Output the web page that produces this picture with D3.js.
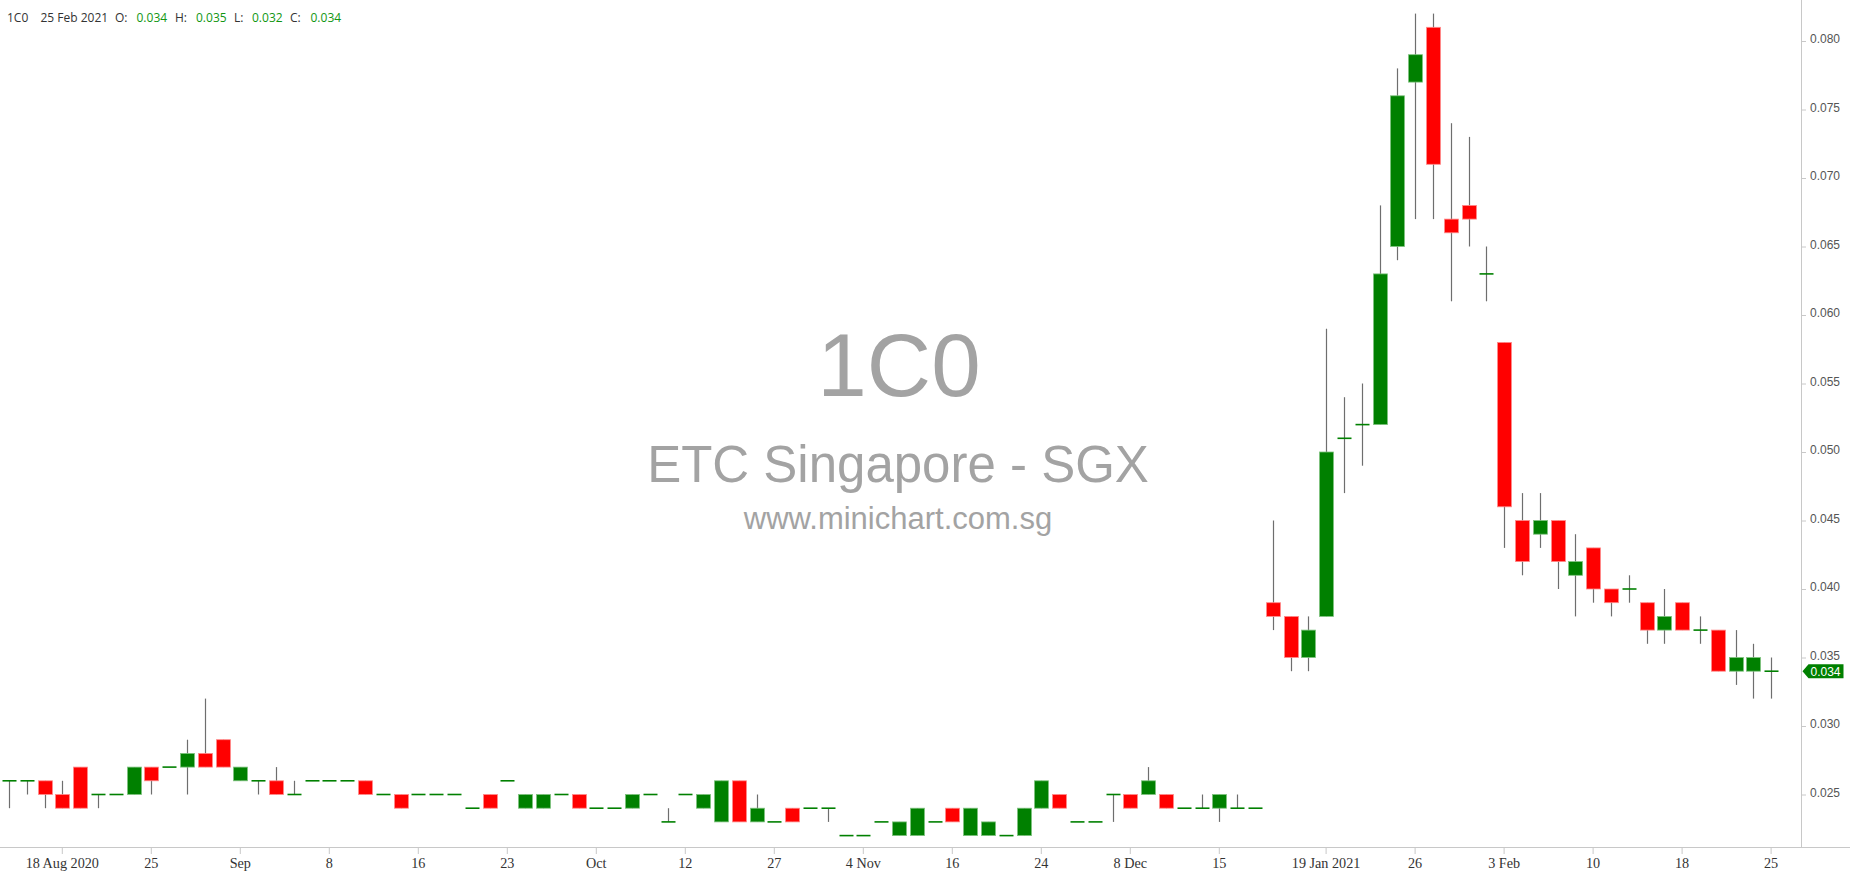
<!DOCTYPE html>
<html>
<head>
<meta charset="utf-8">
<script src="https://cdn.jsdelivr.net/npm/d3@7"></script>
<style>
  html, body { margin: 0; padding: 0; background: #fff; }
  svg { display: block; }
</style>
</head>
<body>
<svg id="chart" width="1850" height="874"></svg>
<script>
const symbol = "1C0";
const wmTitle = "1C0";
const wmSub = "ETC Singapore - SGX";
const wmSite = "www.minichart.com.sg";

const dates = [
  "2020-08-13","2020-08-14","2020-08-17","2020-08-18","2020-08-19","2020-08-20","2020-08-21","2020-08-24","2020-08-25","2020-08-26",
  "2020-08-27","2020-08-28","2020-08-31","2020-09-01","2020-09-02","2020-09-03","2020-09-04","2020-09-07","2020-09-08","2020-09-09",
  "2020-09-10","2020-09-11","2020-09-14","2020-09-16","2020-09-17","2020-09-18","2020-09-21","2020-09-22","2020-09-23","2020-09-24",
  "2020-09-25","2020-09-28","2020-09-29","2020-10-01","2020-10-02","2020-10-05","2020-10-07","2020-10-09","2020-10-12","2020-10-14",
  "2020-10-16","2020-10-20","2020-10-22","2020-10-27","2020-10-28","2020-10-29","2020-10-30","2020-11-02","2020-11-04","2020-11-05",
  "2020-11-06","2020-11-09","2020-11-11","2020-11-16","2020-11-17","2020-11-18","2020-11-19","2020-11-20","2020-11-24","2020-11-25",
  "2020-11-27","2020-12-01","2020-12-03","2020-12-08","2020-12-09","2020-12-10","2020-12-11","2020-12-14","2020-12-15","2020-12-16",
  "2020-12-17","2021-01-14","2021-01-15","2021-01-18","2021-01-19","2021-01-20","2021-01-21","2021-01-22","2021-01-25","2021-01-26",
  "2021-01-27","2021-01-28","2021-01-29","2021-02-01","2021-02-03","2021-02-04","2021-02-05","2021-02-08","2021-02-09","2021-02-10",
  "2021-02-11","2021-02-15","2021-02-16","2021-02-17","2021-02-18","2021-02-19","2021-02-22","2021-02-23","2021-02-24","2021-02-25"
];

const open = [
  .026,.026,.026,.025,.027,.025,.025,.025,.027,.027,
  .027,.028,.029,.026,.026,.026,.025,.026,.026,.026,
  .026,.025,.025,.025,.025,.025,.024,.025,.026,.024,
  .024,.025,.025,.024,.024,.024,.025,.023,.025,.024,
  .023,.026,.023,.023,.024,.024,.024,.022,.022,.023,
  .022,.022,.023,.024,.022,.022,.022,.022,.024,.025,
  .023,.023,.025,.025,.025,.025,.024,.024,.024,.024,
  .024,.039,.038,.035,.038,.051,.052,.052,.065,.077,
  .081,.067,.068,.063,.058,.045,.044,.045,.041,.043,
  .040,.040,.039,.037,.039,.037,.037,.034,.034,.034
];
const high = [
  .026,.026,.026,.026,.027,.025,.025,.027,.027,.027,
  .029,.032,.029,.027,.026,.027,.026,.026,.026,.026,
  .026,.025,.025,.025,.025,.025,.024,.025,.026,.025,
  .025,.025,.025,.024,.024,.025,.025,.024,.025,.025,
  .026,.026,.025,.023,.024,.024,.024,.022,.022,.023,
  .023,.024,.023,.024,.024,.023,.022,.024,.026,.025,
  .023,.023,.025,.025,.027,.025,.024,.025,.025,.025,
  .024,.045,.038,.038,.059,.054,.055,.068,.078,.082,
  .082,.074,.073,.065,.058,.047,.047,.045,.044,.043,
  .040,.041,.039,.040,.039,.038,.037,.037,.036,.035
];
const low = [
  .024,.025,.024,.024,.024,.024,.025,.025,.025,.027,
  .025,.027,.027,.026,.025,.025,.025,.026,.026,.026,
  .025,.025,.024,.025,.025,.025,.024,.024,.026,.024,
  .024,.025,.024,.024,.024,.024,.025,.023,.025,.024,
  .023,.023,.023,.023,.023,.024,.023,.022,.022,.023,
  .022,.022,.023,.023,.022,.022,.022,.022,.024,.024,
  .023,.023,.023,.024,.025,.024,.024,.024,.023,.024,
  .024,.037,.034,.034,.038,.047,.049,.052,.064,.067,
  .067,.061,.065,.061,.043,.041,.043,.040,.038,.039,
  .038,.039,.036,.036,.037,.036,.034,.033,.032,.032
];
const close = [
  .026,.026,.025,.024,.024,.025,.025,.027,.026,.027,
  .028,.027,.027,.027,.026,.025,.025,.026,.026,.026,
  .025,.025,.024,.025,.025,.025,.024,.024,.026,.025,
  .025,.025,.024,.024,.024,.025,.025,.023,.025,.025,
  .026,.023,.024,.023,.023,.024,.024,.022,.022,.023,
  .023,.024,.023,.023,.024,.023,.022,.024,.026,.024,
  .023,.023,.025,.024,.026,.024,.024,.024,.025,.024,
  .024,.038,.035,.037,.050,.051,.052,.063,.076,.079,
  .071,.066,.067,.063,.046,.042,.045,.042,.042,.040,
  .039,.040,.037,.038,.037,.037,.034,.035,.035,.034
];

const priceTicks = [0.025,0.030,0.035,0.040,0.045,0.050,0.055,0.060,0.065,0.070,0.075,0.080];
const tickDates = ["2020-08-18","2020-08-25","2020-09-01","2020-09-08","2020-09-16","2020-09-23","2020-10-01","2020-10-12","2020-10-27","2020-11-04",
                   "2020-11-16","2020-11-24","2020-12-08","2020-12-15","2021-01-19","2021-01-26","2021-02-03","2021-02-10","2021-02-18","2021-02-25"];
const tickLabels = ["18 Aug 2020","25","Sep","8","16","23","Oct","12","27","4 Nov",
                    "16","24","8 Dec","15","19 Jan 2021","26","3 Feb","10","18","25"];

const W = 1850, H = 874;
const axisX = 1801.5, axisY = 847;
const UP = "#008000", DOWN = "#ff0000", WICK = "#6e6e6e";

const svg = d3.select("#chart");

const x = d3.scaleBand().domain(dates).range([0, 1780]).padding(0);
const y = d3.scaleLinear().domain([0.025, 0.080]).range([794.5, 41]);
const cx = d => x(d) + x.bandwidth() / 2;

// watermark
const wm = svg.append("g").attr("fill", "#a3a3a3").attr("font-family", "'Liberation Sans', Arial, sans-serif").attr("text-anchor", "middle");
wm.append("text").attr("x", 899).attr("y", 396).attr("font-size", 89).text(wmTitle);
wm.append("text").attr("x", 898).attr("y", 482).attr("font-size", 51).text(wmSub);
wm.append("text").attr("x", 898).attr("y", 529).attr("font-size", 31).text(wmSite);

// axes lines
svg.append("line").attr("x1", 0).attr("x2", W).attr("y1", axisY + 0.5).attr("y2", axisY + 0.5).attr("stroke", "#c8c8c8");
svg.append("line").attr("x1", axisX).attr("x2", axisX).attr("y1", 0).attr("y2", axisY).attr("stroke", "#c8c8c8");

// x axis
const xAxis = d3.axisBottom(x).tickValues(tickDates).tickFormat((d, i) => tickLabels[i]).tickSize(6).tickSizeOuter(0);
const gx = svg.append("g").attr("transform", `translate(0,${axisY + 1})`).call(xAxis);
gx.select(".domain").remove();
gx.selectAll(".tick line").attr("stroke", "#c8c8c8");
gx.selectAll(".tick text").attr("fill", "#333").attr("font-family", "'Liberation Serif', 'Times New Roman', serif").attr("font-size", 14.2).attr("dy", "0.78em");

// y axis (right)
const yAxis = d3.axisRight(y).tickValues(priceTicks).tickFormat(d3.format(".3f")).tickSize(4).tickPadding(4);
const gy = svg.append("g").attr("transform", `translate(${axisX + 0.5},0)`).call(yAxis);
gy.select(".domain").remove();
gy.selectAll(".tick line").attr("stroke", "#c8c8c8");
gy.selectAll(".tick text").attr("fill", "#555").attr("font-family", "'Liberation Sans', Arial, sans-serif").attr("font-size", 12).attr("dy", "0.15em");

// candles
const data = dates.map((d, i) => ({ d, o: open[i], h: high[i], l: low[i], c: close[i] }));
const bw = 14;
const g = svg.append("g");
g.selectAll("line.wick").data(data.filter(e => e.h > e.l)).join("line")
  .attr("class", "wick")
  .attr("x1", e => Math.round(cx(e.d)) + 0.5).attr("x2", e => Math.round(cx(e.d)) + 0.5)
  .attr("y1", e => y(e.h)).attr("y2", e => y(e.l))
  .attr("stroke", WICK).attr("stroke-width", 1.2);
g.selectAll("rect.body").data(data.filter(e => e.o !== e.c)).join("rect")
  .attr("class", "body")
  .attr("x", e => Math.round(cx(e.d)) + 0.5 - bw / 2)
  .attr("width", bw)
  .attr("y", e => y(Math.max(e.o, e.c)))
  .attr("height", e => y(Math.min(e.o, e.c)) - y(Math.max(e.o, e.c)))
  .attr("fill", e => e.c > e.o ? UP : DOWN)
  .attr("stroke", e => e.c > e.o ? "#7fc27f" : "#ff8c8c")
  .attr("stroke-width", 0.8);
g.selectAll("line.doji").data(data.filter(e => e.o === e.c)).join("line")
  .attr("class", "doji")
  .attr("x1", e => Math.round(cx(e.d)) + 0.5 - bw / 2).attr("x2", e => Math.round(cx(e.d)) + 0.5 + bw / 2)
  .attr("y1", e => y(e.c)).attr("y2", e => y(e.c))
  .attr("stroke", UP).attr("stroke-width", 1.6);

// last price tag
const last = data[data.length - 1];
const ly = y(last.c);
svg.append("path")
  .attr("d", `M${axisX + 1},${ly} L${axisX + 7},${ly - 7} L${axisX + 42},${ly - 7} L${axisX + 42},${ly + 7} L${axisX + 7},${ly + 7} Z`)
  .attr("fill", UP);
svg.append("text").attr("x", axisX + 9).attr("y", ly).attr("dy", "0.36em")
  .attr("fill", "#fff").attr("font-family", "'Liberation Sans', Arial, sans-serif").attr("font-size", 12)
  .text(d3.format(".3f")(last.c));

// header
const hdr = svg.append("g").attr("font-family", "'Open Sans', sans-serif").attr("font-size", 12);
const fmt = d3.format(".3f");
const lastDate = d3.timeFormat("%-d %b %Y")(d3.timeParse("%Y-%m-%d")(last.d));
const hdrItems = [
  [7, symbol, "#333"], [40.5, lastDate, "#333"],
  [115, "O:", "#333"], [136.5, fmt(last.o), "#129612"],
  [175, "H:", "#333"], [196, fmt(last.h), "#129612"],
  [234, "L:", "#333"], [252, fmt(last.l), "#129612"],
  [290, "C:", "#333"], [310.5, fmt(last.c), "#129612"]
];
hdr.selectAll("text").data(hdrItems).join("text")
  .attr("x", d => d[0]).attr("y", 21.5).attr("fill", d => d[2]).text(d => d[1]);
</script>
</body>
</html>
